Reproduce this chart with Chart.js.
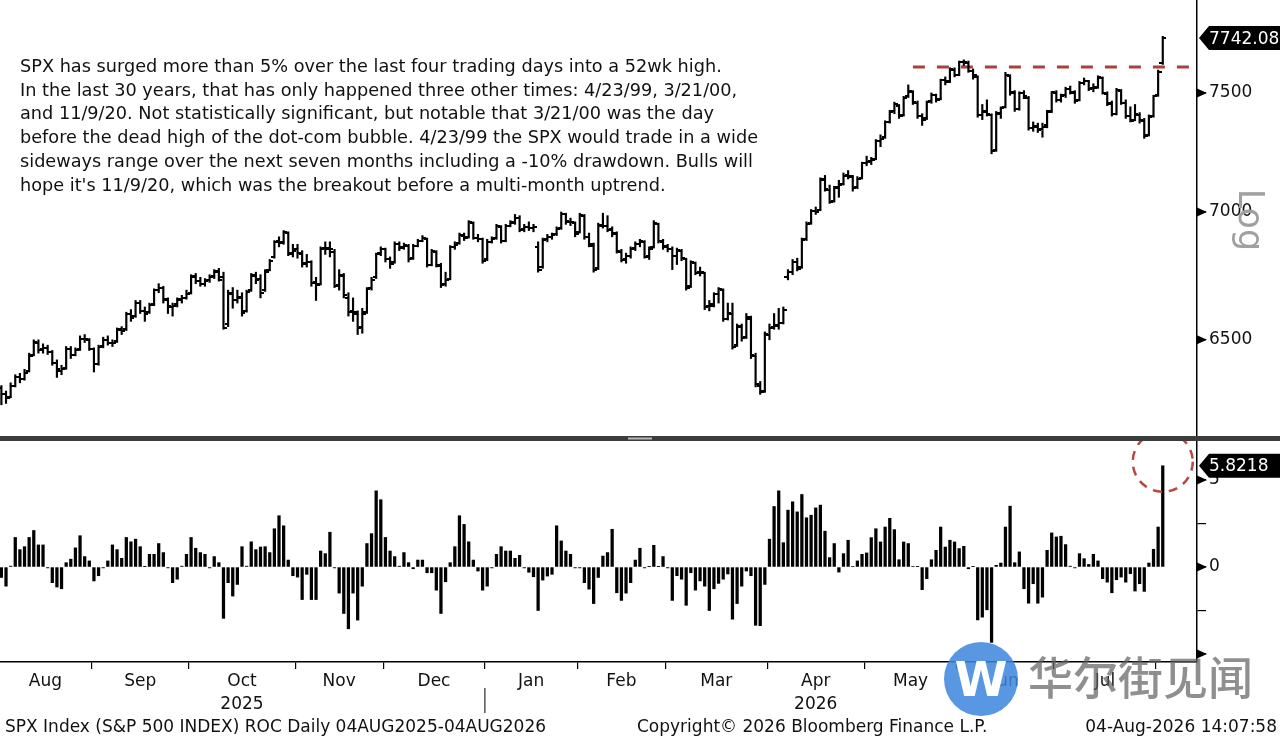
<!DOCTYPE html>
<html>
<head>
<meta charset="utf-8">
<script src="https://cdn.jsdelivr.net/npm/chart.js@4.4.1/dist/chart.umd.min.js"></script>
<style>
  html, body { margin: 0; padding: 0; background: #fff; }
  #wrap { position: relative; width: 1280px; height: 740px; overflow: hidden; font-family: 'DejaVu Sans', sans-serif; color: #111; }
  #c { position: absolute; left: 0; top: 0; }
  .note { position: absolute; left: 20px; top: 55px; font-size: 17.7px; line-height: 23.7px; white-space: pre; }
  .log { position: absolute; left: 1216px; top: 200px; width: 70px; height: 40px; line-height: 40px; text-align: center;
         font-size: 35px; color: #a0a0a0; transform: rotate(90deg); }
  .foot { position: absolute; top: 715px; font-size: 17px; line-height: 22px; white-space: pre; }
  .wm-logo { position: absolute; left: 944px; top: 642px; width: 74px; height: 74px; border-radius: 50%; background: rgba(62,134,222,0.86);
             color: #fff; font: bold 48px/74px 'DejaVu Sans', sans-serif; text-align: center; }
  .wm-text { position: absolute; left: 1028px; top: 646px; font-family: 'Noto Sans CJK SC', sans-serif; font-size: 45px;
             line-height: 60px; color: rgba(95,95,95,0.7); font-weight: 500; }
</style>
</head>
<body>
<div id="wrap">
  <canvas id="c" width="1280" height="740"></canvas>
  <div class="note">SPX has surged more than 5% over the last four trading days into a 52wk high.
In the last 30 years, that has only happened three other times: 4/23/99, 3/21/00,
and 11/9/20. Not statistically significant, but notable that 3/21/00 was the day
before the dead high of the dot-com bubble. 4/23/99 the SPX would trade in a wide
sideways range over the next seven months including a -10% drawdown. Bulls will
hope it's 11/9/20, which was the breakout before a multi-month uptrend.</div>
  <div class="log">Log</div>
  <div class="foot" style="left:5px">SPX Index (S&amp;P 500 INDEX) ROC Daily 04AUG2025-04AUG2026</div>
  <div class="foot" style="left:637px">Copyright© 2026 Bloomberg Finance L.P.</div>
  <div class="foot" style="right:3px">04-Aug-2026 14:07:58</div>
  <div class="wm-logo">W</div>
  <div class="wm-text">华尔街见闻</div>
</div>
<script>
// daily bars, 04AUG2025 .. 04AUG2026 (index = trading day)
const open = [
  6320,6300,6290,6330,6360,6355,6385,6445,6490,6465, 6470,6455,6415,6385,6395,6465,6445,6465,6505,6500,
  6465,6410,6475,6500,6490,6495,6540,6540,6600,6590, 6640,6610,6605,6635,6690,6700,6650,6625,6635,6655,
  6660,6680,6745,6725,6715,6730,6745,6760,6740,6560, 6675,6650,6660,6610,6690,6745,6735,6690,6770,6820,
  6885,6880,6915,6835,6850,6830,6795,6800,6720,6715, 6855,6855,6840,6710,6745,6660,6610,6600,6550,6605,
  6700,6740,6835,6850,6810,6800,6870,6860,6865,6815, 6865,6885,6890,6790,6840,6785,6715,6735,6860,6875,
  6905,6900,6955,6895,6890,6810,6880,6895,6940,6885, 6945,6960,6975,6930,6940,6935,6860,6780,6890,6900,
  6910,6935,6990,6960,6955,6920,6985,6900,6865,6775, 6945,6945,6930,6910,6840,6810,6825,6855,6870,6880,
  6825,6860,6950,6880,6860,6850,6825,6845,6810,6705, 6795,6760,6755,6630,6635,6675,6690,6580,6600,6480,
  6550,6510,6580,6440,6330,6310,6520,6550,6555,6565, 6740,6760,6800,6780,6890,6955,7005,7010,7130,7090,
  7045,7100,7115,7150,7145,7100,7140,7200,7210,7220, 7295,7310,7375,7420,7445,7405,7485,7505,7455,7400,
  7390,7465,7490,7475,7555,7550,7600,7580,7635,7630, 7595,7570,7405,7420,7405,7255,7415,7440,7575,7500,
  7430,7500,7480,7350,7355,7345,7360,7420,7500,7470, 7490,7515,7500,7470,7545,7550,7520,7525,7565,7495,
  7455,7410,7510,7455,7400,7385,7405,7380,7320,7400, 7490,7630
];
const high = [
  6330,6310,6340,6370,6375,6390,6450,6500,6500,6485, 6480,6460,6425,6405,6475,6475,6470,6515,6520,6505,
  6470,6480,6510,6515,6500,6545,6550,6605,6615,6650, 6650,6625,6640,6695,6715,6705,6660,6640,6660,6670,
  6690,6750,6755,6740,6735,6750,6770,6775,6760,6690, 6700,6690,6680,6690,6755,6760,6750,6770,6810,6885,
  6900,6925,6920,6870,6870,6845,6830,6805,6740,6860, 6880,6880,6850,6770,6755,6680,6660,6610,6620,6700,
  6740,6835,6860,6855,6820,6880,6880,6875,6870,6870, 6890,6905,6895,6850,6845,6795,6760,6865,6880,6915,
  6915,6965,6960,6910,6895,6890,6900,6950,6945,6950, 6965,6990,6985,6950,6960,6950,6880,6895,6910,6915,
  6940,7000,6995,6975,6960,6995,6990,6915,6875,6955, 6995,6985,6940,6920,6850,6835,6860,6880,6890,6885,
  6860,6965,6955,6890,6870,6860,6855,6850,6815,6805, 6800,6780,6760,6650,6680,6700,6695,6640,6640,6560,
  6560,6600,6590,6450,6345,6530,6560,6600,6620,6625, 6770,6810,6815,6895,6960,7010,7020,7140,7150,7110,
  7105,7130,7160,7170,7150,7145,7205,7230,7225,7300, 7320,7380,7425,7460,7450,7485,7535,7510,7465,7410,
  7465,7500,7495,7560,7570,7610,7610,7640,7645,7640, 7605,7575,7450,7470,7410,7420,7440,7590,7580,7510,
  7505,7510,7485,7375,7370,7370,7425,7505,7510,7495, 7525,7530,7510,7550,7565,7555,7540,7575,7570,7505,
  7465,7520,7515,7470,7440,7450,7415,7390,7405,7490, 7600,7750
];
const low = [
  6260,6265,6285,6325,6340,6350,6380,6440,6450,6450, 6445,6405,6360,6370,6390,6430,6440,6460,6490,6460,
  6380,6405,6470,6480,6475,6490,6520,6535,6570,6585, 6600,6570,6600,6630,6680,6640,6600,6590,6625,6640,
  6655,6675,6715,6705,6705,6720,6735,6725,6540,6550, 6620,6640,6590,6605,6685,6715,6660,6685,6765,6815,
  6860,6870,6825,6820,6815,6780,6780,6705,6650,6710, 6830,6820,6700,6690,6660,6590,6570,6520,6525,6600,
  6690,6735,6825,6800,6775,6795,6845,6850,6800,6810, 6860,6880,6780,6785,6780,6700,6705,6730,6850,6870,
  6885,6895,6890,6880,6795,6805,6875,6890,6875,6880, 6940,6950,6920,6920,6925,6920,6760,6775,6880,6890,
  6905,6930,6950,6945,6900,6915,6890,6860,6760,6770, 6935,6920,6900,6835,6800,6795,6815,6845,6860,6815,
  6810,6855,6875,6850,6840,6770,6790,6805,6690,6700, 6750,6745,6615,6610,6625,6640,6570,6575,6465,6475,
  6495,6505,6430,6325,6298,6305,6500,6540,6540,6560, 6730,6750,6765,6775,6885,6950,6990,7005,7085,7035,
  7040,7060,7110,7135,7085,7095,7135,7190,7195,7215, 7270,7305,7370,7410,7390,7400,7480,7450,7390,7360,
  7385,7455,7460,7470,7535,7545,7570,7575,7620,7590, 7560,7395,7385,7400,7240,7250,7390,7435,7490,7420,
  7425,7475,7340,7335,7330,7310,7350,7415,7460,7460, 7480,7495,7455,7465,7535,7510,7505,7520,7495,7445,
  7400,7405,7450,7390,7375,7380,7370,7305,7315,7395, 7485,7625
];
const close = [
  6298,6285,6330,6360,6355,6378,6440,6492,6462,6470, 6455,6415,6390,6390,6465,6444,6460,6505,6504,6467,
  6408,6472,6501,6490,6489,6537,6534,6600,6583,6642, 6610,6600,6631,6690,6699,6655,6628,6630,6652,6658,
  6676,6743,6724,6713,6725,6740,6764,6730,6545,6679, 6651,6663,6603,6682,6747,6730,6679,6760,6803,6878,
  6876,6920,6830,6844,6836,6791,6801,6716,6708,6853, 6853,6850,6705,6750,6670,6607,6604,6544,6597,6696,
  6731,6831,6852,6810,6793,6872,6855,6867,6810,6865, 6882,6894,6788,6842,6790,6710,6730,6859,6869,6908,
  6895,6958,6896,6892,6803,6881,6893,6942,6883,6944, 6956,6977,6929,6941,6935,6938,6770,6889,6899,6909,
  6930,6992,6962,6959,6913,6988,6899,6871,6768,6946, 6942,6928,6915,6843,6809,6824,6853,6870,6883,6821,
  6853,6956,6883,6862,6850,6822,6849,6814,6699,6799, 6758,6759,6625,6629,6674,6695,6579,6602,6474,6554,
  6507,6587,6442,6334,6305,6521,6545,6554,6563,6612, 6759,6800,6771,6888,6950,7003,7001,7133,7093,7041,
  7096,7112,7148,7149,7096,7137,7200,7207,7216,7294, 7304,7373,7418,7451,7400,7479,7510,7460,7400,7385,
  7460,7490,7470,7555,7546,7605,7578,7635,7636,7597, 7578,7403,7416,7410,7250,7410,7433,7580,7504,7429,
  7498,7485,7348,7358,7342,7355,7419,7502,7469,7485, 7515,7506,7465,7543,7551,7517,7520,7569,7500,7452,
  7409,7514,7456,7400,7381,7410,7384,7316,7398,7486, 7590,7742.08
];
// ROC (4 day rate of change, %)
const roc = [
  -0.6,-1.1,0.05,1.7,1.0,1.17,1.7,2.1,1.27,1.27, -0.05,-0.9,-1.15,-1.25,0.25,0.45,1.1,1.8,0.6,0.35,
  -0.8,-0.5,-0.05,0.35,1.27,1.0,0.5,1.7,1.45,1.6, 1.17,0.02,0.73,0.73,1.35,0.83,-0.05,-0.9,-0.7,0.05,
  0.73,1.7,1.08,0.83,0.73,-0.05,0.6,0.25,-2.95,-0.9, -1.67,-1.0,1.17,0.05,1.45,1.0,1.15,1.17,0.83,2.2,
  2.95,2.37,0.4,-0.5,-0.58,-1.87,-0.42,-1.87,-1.87,0.92, 0.77,2.0,-0.05,-1.5,-2.67,-3.55,-1.5,-3.05,-1.1,1.35,
  1.92,4.38,3.87,1.7,0.92,0.6,0.05,0.83,0.25,-0.1, 0.4,0.4,-0.33,-0.33,-1.33,-2.67,-0.85,0.25,1.17,2.95,
  2.45,1.45,0.4,-0.23,-1.33,-1.1,-0.05,0.73,1.17,0.92, 0.92,0.5,0.67,-0.05,-0.3,-0.56,-2.5,-0.75,-0.52,-0.42,
  2.37,1.5,0.92,0.73,-0.05,-0.05,-0.9,-1.27,-2.1,-0.6, 0.63,0.83,2.17,-1.48,-1.92,-1.5,-0.9,0.4,1.08,-0.05,
  0.02,1.25,0.02,0.6,-0.05,-1.92,-0.5,-0.7,-2.2,-0.33, -1.33,-0.8,-1.1,-2.5,-1.25,-0.94,-0.7,-0.4,-3.0,-2.1,
  -1.1,-0.23,-0.5,-3.35,-3.37,-1.0,1.6,3.48,4.38,1.4, 3.27,3.75,3.17,4.17,2.83,2.98,3.4,3.56,2.06,0.54,
  1.35,-0.29,0.77,1.54,0.03,0.35,0.73,0.81,1.69,2.2, 1.44,2.3,2.8,2.15,0.42,1.44,1.35,0.03,0.02,-1.3,
  -0.67,0.42,0.96,2.3,1.15,1.54,1.44,1.06,1.19,-0.1, 0.02,-3.04,-2.88,-2.46,-4.33,0.1,0.23,2.3,3.5,0.25,
  0.87,-1.25,-2.08,-0.96,-2.08,-1.73,0.96,1.96,1.73,1.77, 1.29,0.05,-0.05,0.77,0.48,0.15,0.73,0.35,-0.67,-0.87,
  -1.48,-0.73,-0.58,-0.87,-0.38,-1.38,-0.96,-1.4,0.23,1.02, 2.3,5.8218
];

// month axis (boundaries in trading-day index)
const monthNames = ['Aug','Sep','Oct','Nov','Dec','Jan','Feb','Mar','Apr','May','Jun','Jul'];
const yearRow    = ['',   '',   '2025','',  '',   '',   '',   '',   '2026','',  '',   ''];
const monthStarts = [-0.5,19.5,40.5,63.5,82.5,104.5,124.5,143.5,165.5,186.5,206.5,227.5,249.5];
const yearBreak = 104.5;

const priceTicks = [6500, 7000, 7500];
const rocTicks = [-5, -2.5, 0, 2.5, 5];
const rocLabeled = [0, 5];
const rocMarked = [-5, 0, 5];

const resistance = 7614;
const resistanceFrom = 197;

const xMin = -0.3, xMax = 258.4;
const yMin = 6137, yMax = 7915;
const rMin = -5.46, rMax = 7.36;

Chart.defaults.font.family = "'DejaVu Sans', sans-serif";
Chart.defaults.color = '#111';

function tickMark(side) {
  const c = document.createElement('canvas');
  c.width = 7; c.height = 2;
  const g = c.getContext('2d');
  g.fillStyle = '#000';
  if (side < 0) g.fillRect(0, 0, 4, 2); else g.fillRect(3, 0, 4, 2);
  return c;
}

const monthMid = monthStarts.slice(0, -1).map((s, i) => (s + monthStarts[i + 1]) / 2);

const decor = {
  id: 'decor',
  afterDraw(chart) {
    const { ctx, scales } = chart;
    const { x, xl, y, r } = scales;
    const ax = y.left;
    ctx.save();

    // dashed circle round the last ROC bar
    const last = roc.length - 1;
    const cx = x.getPixelForValue(last);
    const cy = r.getPixelForValue(roc[last]) - 4;
    ctx.save();
    ctx.beginPath();
    ctx.rect(0, y.bottom + 2, ax, r.bottom - y.bottom);
    ctx.clip();
    ctx.beginPath();
    ctx.setLineDash([9, 7]);
    ctx.strokeStyle = '#b24a42';
    ctx.lineWidth = 2.5;
    ctx.arc(cx, cy, 30, 0, Math.PI * 2);
    ctx.stroke();
    ctx.restore();

    // panel separator
    ctx.fillStyle = '#3c3c3c';
    ctx.fillRect(0, y.bottom - 3, chart.width, 5);
    ctx.fillStyle = '#b8b8b8';
    ctx.fillRect(628, y.bottom - 1.5, 24, 2);

    // tick triangles
    ctx.fillStyle = '#000';
    const tri = py => {
      ctx.beginPath();
      ctx.moveTo(ax, py - 4.5);
      ctx.lineTo(ax + 10, py);
      ctx.lineTo(ax, py + 4.5);
      ctx.closePath();
      ctx.fill();
    };
    priceTicks.forEach(v => tri(y.getPixelForValue(v)));
    rocMarked.forEach(v => tri(r.getPixelForValue(v)));

    // last value tags
    const tag = (py, text) => {
      ctx.fillStyle = '#000';
      ctx.beginPath();
      ctx.moveTo(ax + 2, py);
      ctx.lineTo(ax + 12, py - 12);
      ctx.lineTo(chart.width, py - 12);
      ctx.lineTo(chart.width, py + 12);
      ctx.lineTo(ax + 12, py + 12);
      ctx.closePath();
      ctx.fill();
      ctx.fillStyle = '#fff';
      ctx.font = "17px 'DejaVu Sans', sans-serif";
      ctx.textBaseline = 'middle';
      ctx.textAlign = 'left';
      ctx.fillText(text, ax + 12, py + 1);
    };
    tag(y.getPixelForValue(close[last]), close[last].toFixed(2));
    tag(r.getPixelForValue(roc[last]), roc[last].toFixed(4));

    // year divider under the month labels
    const bx = x.getPixelForValue(yearBreak);
    ctx.strokeStyle = '#000';
    ctx.lineWidth = 1;
    ctx.beginPath();
    ctx.moveTo(bx, xl.top + 18);
    ctx.lineTo(bx, xl.top + 43);
    ctx.stroke();

    ctx.restore();
  }
};

const noPad = s => { s.paddingTop = 0; s.paddingBottom = 0; s.paddingLeft = 0; s.paddingRight = 0; };

new Chart(document.getElementById('c'), {
  type: 'bar',
  data: {
    datasets: [
      {
        type: 'bar', label: 'High-Low',
        data: high.map((h, i) => ({ x: i, y: [low[i], h] })),
        xAxisID: 'x', yAxisID: 'y',
        backgroundColor: '#000', barThickness: 1.5, grouped: false
      },
      {
        type: 'line', label: 'Open',
        data: open.map((v, i) => ({ x: i, y: v })),
        xAxisID: 'x', yAxisID: 'y',
        showLine: false, pointStyle: tickMark(-1), pointRadius: 3
      },
      {
        type: 'line', label: 'Close',
        data: close.map((v, i) => ({ x: i, y: v })),
        xAxisID: 'x', yAxisID: 'y',
        showLine: false, pointStyle: tickMark(1), pointRadius: 3
      },
      {
        type: 'line', label: 'Prior high',
        data: [{ x: resistanceFrom, y: resistance }, { x: xMax, y: resistance }],
        xAxisID: 'x', yAxisID: 'y',
        borderColor: '#a8433b', borderWidth: 3, borderDash: [12, 12], pointRadius: 0
      },
      {
        type: 'bar', label: 'ROC',
        data: roc.map((v, i) => ({ x: i, y: v })),
        xAxisID: 'x', yAxisID: 'r',
        backgroundColor: '#000', barThickness: 2.6, grouped: false
      }
    ]
  },
  options: {
    responsive: false,
    animation: false,
    events: [],
    layout: { autoPadding: false, padding: { left: 0, right: 0, top: 0, bottom: 18 } },
    plugins: { legend: { display: false }, tooltip: { enabled: false } },
    scales: {
      x: {
        type: 'linear', position: 'bottom', min: xMin, max: xMax, offset: false,
        afterBuildTicks: s => { s.ticks = monthStarts.slice(1).map(v => ({ value: v })); },
        afterFit: s => { s.height = 8; noPad(s); },
        ticks: { display: false },
        grid: { drawOnChartArea: false, drawTicks: true, tickLength: 7, color: '#000', lineWidth: 1.2, offset: false },
        border: { color: '#000', width: 1.5 }
      },
      xl: {
        type: 'linear', position: 'bottom', min: xMin, max: xMax, offset: false,
        afterBuildTicks: s => { s.ticks = monthMid.map(v => ({ value: v })); },
        afterFit: s => { s.height = 52; noPad(s); },
        ticks: {
          autoSkip: false, maxRotation: 0, minRotation: 0, padding: 0, color: '#111',
          font: { size: 17, lineHeight: 1.35 },
          callback: (v, i) => yearRow[i] ? [monthNames[i], yearRow[i]] : monthNames[i]
        },
        grid: { display: false, drawTicks: false },
        border: { display: false }
      },
      y: {
        type: 'logarithmic', position: 'right', stack: 'panels', stackWeight: 439,
        min: yMin, max: yMax,
        afterBuildTicks: s => { s.ticks = priceTicks.map(v => ({ value: v })); },
        afterFit: s => { s.width = 83; noPad(s); },
        ticks: { autoSkip: false, padding: 3, color: '#111', font: { size: 17 }, callback: v => String(v) },
        grid: { drawOnChartArea: false, drawTicks: true, tickLength: 9, color: '#000', lineWidth: 1.2 },
        border: { color: '#000', width: 1.5 }
      },
      r: {
        type: 'linear', position: 'right', stack: 'panels', stackWeight: 223,
        min: rMin, max: rMax,
        afterBuildTicks: s => { s.ticks = rocTicks.map(v => ({ value: v })); },
        afterFit: s => { s.width = 83; noPad(s); },
        ticks: { autoSkip: false, padding: 3, color: '#111', font: { size: 17 },
                 callback: v => rocLabeled.includes(v) ? String(v) : '' },
        grid: { drawOnChartArea: false, drawTicks: true, tickLength: 9, color: '#000', lineWidth: 1.2 },
        border: { color: '#000', width: 1.5 }
      }
    }
  },
  plugins: [decor]
});
</script>
</body>
</html>
